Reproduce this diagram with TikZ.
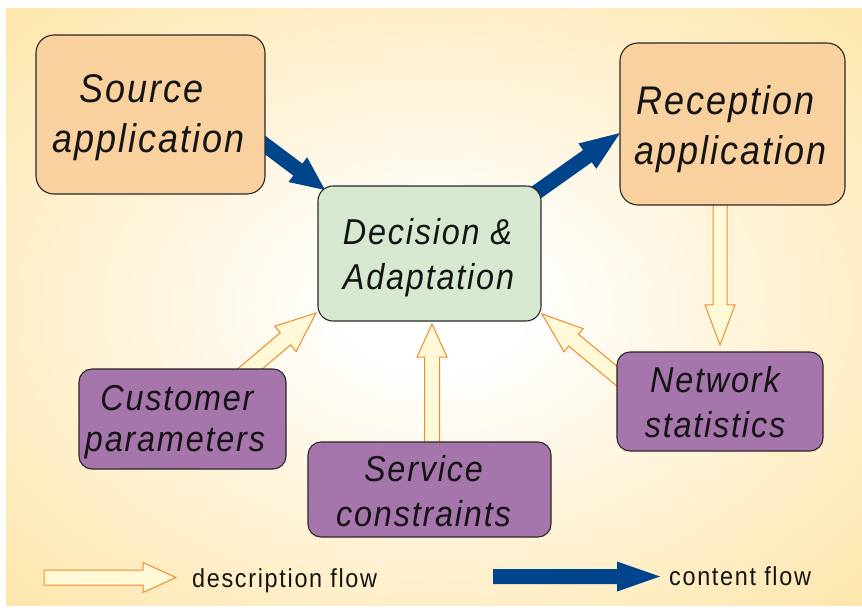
\documentclass[tikz,border=0pt]{standalone}
\usepackage{fontspec}
\setmainfont{Liberation Sans}
\newfontfamily\diagfont[FakeStretch=0.9, LetterSpace=5]{Liberation Sans}
\newfontfamily\legfont[FakeStretch=0.9, LetterSpace=6.5]{Liberation Sans}
\usetikzlibrary{calc}
\definecolor{bgY}{RGB}{253,221,140}
\definecolor{bgM}{RGB}{255,241,208}
\definecolor{peach}{RGB}{249,209,159}
\definecolor{mint}{RGB}{214,232,207}
\definecolor{lilac}{RGB}{165,117,172}
\definecolor{flowO}{RGB}{240,140,40}
\definecolor{flowF}{RGB}{255,249,215}
\definecolor{navy}{RGB}{0,68,140}
\definecolor{edgec}{RGB}{40,40,40}
\definecolor{ink}{RGB}{20,20,20}
\pgfdeclareradialshading{bgshade}{\pgfpoint{0bp}{0bp}}{color(0bp)=(white); color(5bp)=(white); color(22bp)=(bgM); color(47bp)=(bgY); color(80bp)=(bgY)}
\pgfdeclarelayer{bglayer}
\pgfdeclarelayer{arrowlayer}
\pgfsetlayers{bglayer,arrowlayer,main}
\newcommand\blockarrow[6]{%
  \coordinate (hb) at ($(#3)!#6!(#2)$);
  \path[#1] ($(#2)!#4!90:(#3)$) -- ($(hb)!#4!90:(#3)$) -- ($(hb)!#5!90:(#3)$) -- (#3)
    -- ($(hb)!#5!-90:(#3)$) -- ($(hb)!#4!-90:(#3)$) -- ($(#2)!#4!-90:(#3)$) -- cycle;}
% two-line label: #1 strut height, #2 strut depth, #3/#5 lines, #4/#6 right kerns
\newcommand\twolines[6]{\rule{0pt}{#1}#3\kern#4\\#5\kern#6\rule[-#2]{0pt}{#2}}
\tikzset{
  boxbase/.style={draw=edgec, line width=1.1pt, inner sep=0pt, align=center, text=ink},
  appbox/.style={boxbase, fill=peach, rounded corners=18pt, font=\diagfont\fontsize{40}{50}\selectfont\itshape},
  decbox/.style={boxbase, fill=mint, rounded corners=15pt, font=\diagfont\fontsize{36}{45}\selectfont\itshape},
  inbox/.style={boxbase, fill=lilac, rounded corners=13pt, font=\diagfont\fontsize{36}{45}\selectfont\itshape},
  descflow/.style={draw=flowO, fill=flowF, line width=1pt, line join=miter},
  contentflow/.style={fill=navy},
  legendtxt/.style={font=\legfont\fontsize{26}{30}\selectfont, anchor=base west, inner sep=0pt, text=ink}
}
\begin{document}
\begin{tikzpicture}[x=1pt, y=-1pt]
\useasboundingbox (0,0) rectangle (862,612);
\begin{pgfonlayer}{bglayer}
  \fill[white] (0,0) rectangle (862,612);
  \shade[shading=bgshade] (6,9) rectangle (862,605);
\end{pgfonlayer}

% boxes
\node[appbox, minimum width=229pt, minimum height=159pt] (src) at (150.5,114.5)
  {\twolines{35pt}{8pt}{Source}{17pt}{application}{3pt}};
\node[appbox, minimum width=225pt, minimum height=162pt] (rec) at (732.5,124)
  {\twolines{40pt}{8pt}{Reception}{13pt}{application}{3pt}};
\node[decbox, minimum width=223pt, minimum height=135pt] (dec) at (429.5,253.5)
  {\twolines{36pt}{8pt}{Decision \&}{4pt}{Adaptation}{2pt}};
\node[inbox, minimum width=207pt, minimum height=100pt, font=\diagfont\fontsize{36}{41}\selectfont\itshape] (cust) at (182.5,419)
  {\twolines{31pt}{8pt}{Customer}{11pt}{parameters}{15pt}};
\node[inbox, minimum width=243pt, minimum height=95pt] (serv) at (429.5,489.5)
  {\twolines{36pt}{8pt}{Service}{12pt}{constraints}{12pt}};
\node[inbox, minimum width=206pt, minimum height=99pt] (net) at (720,401.5)
  {\twolines{34pt}{8pt}{Network}{10pt}{statistics}{10pt}};

% connector end points
\coordinate (c1s) at (245,130);   \coordinate (c1t) at (325,190);
\coordinate (c2s) at (520,204);   \coordinate (c2t) at (620,133);
\coordinate (d1s) at (720,195);   \coordinate (d1t) at (720,345);
\coordinate (d2s) at (432,452);   \coordinate (d2t) at (432,324);
\coordinate (d3s) at (238,379);   \coordinate (d3t) at (316,313);
\coordinate (d4s) at (630,387);   \coordinate (d4t) at (542,314);

\begin{pgfonlayer}{arrowlayer}
  \blockarrow{contentflow}{c1s}{c1t}{7.5pt}{15.5pt}{34pt}
  \blockarrow{contentflow}{c2s}{c2t}{7.5pt}{15.5pt}{40pt}
  \blockarrow{descflow}{d1s}{d1t}{7pt}{15pt}{40pt}
  \blockarrow{descflow}{d2s}{d2t}{7.5pt}{15pt}{33pt}
  \blockarrow{descflow}{d3s}{d3t}{8pt}{16.5pt}{40pt}
  \blockarrow{descflow}{d4s}{d4t}{7.7pt}{15pt}{41pt}
\end{pgfonlayer}

% legend
\coordinate (l1s) at (44,577.5);  \coordinate (l1t) at (176,577.5);
\coordinate (l2s) at (493,576.5); \coordinate (l2t) at (660,576.5);
\blockarrow{descflow}{l1s}{l1t}{7.5pt}{15pt}{33pt}
\blockarrow{contentflow}{l2s}{l2t}{7.5pt}{15pt}{43pt}
\node[legendtxt] (lgd) at (192,587) {description flow};
\node[legendtxt] (lgc) at (669,585) {content flow};
\end{tikzpicture}
\end{document}
